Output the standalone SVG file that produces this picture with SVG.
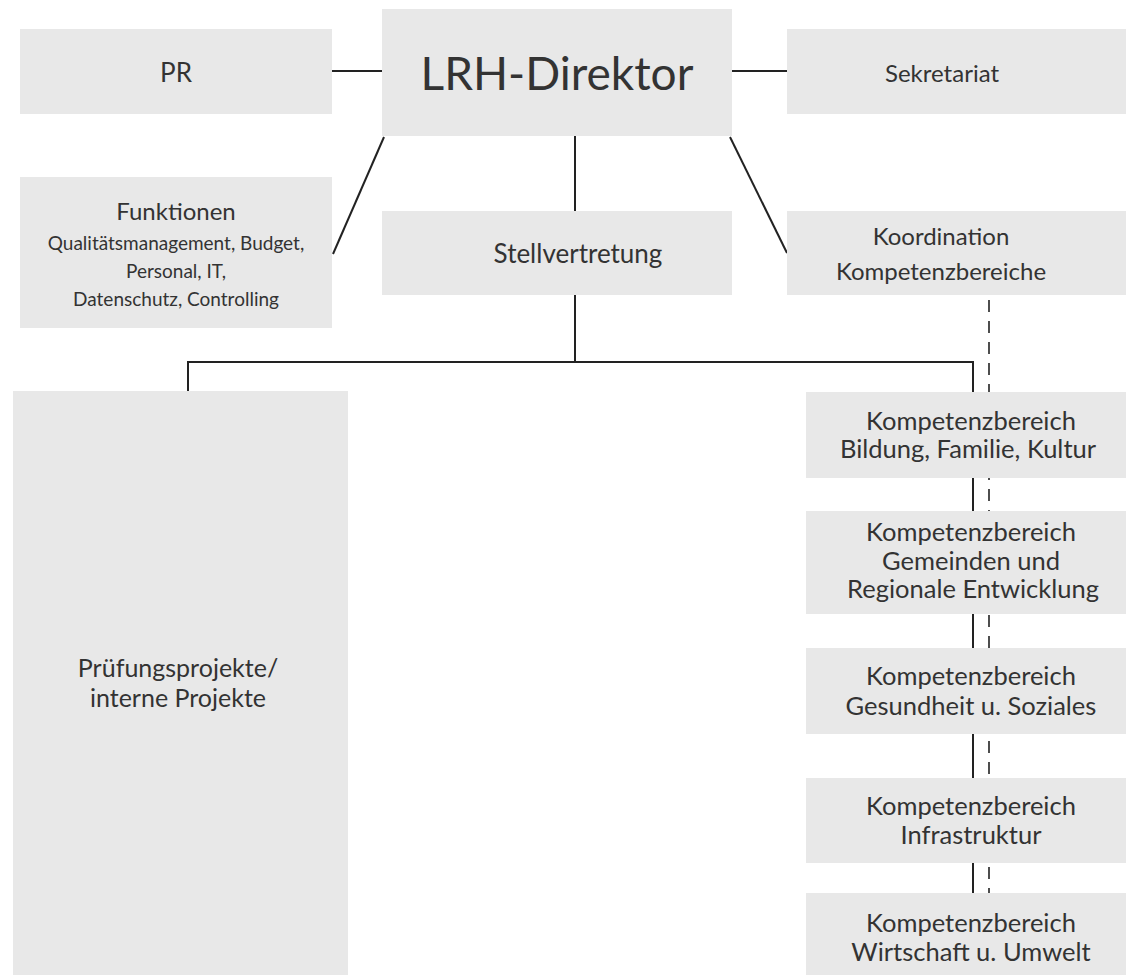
<svg xmlns="http://www.w3.org/2000/svg" width="1126" height="975" viewBox="0 0 1126 975">
<style>
.box{fill:#e8e8e8}
text{font-family:Lato,"Open Sans","Liberation Sans",sans-serif;fill:#333;text-anchor:middle}
.kb{font-size:25.5px}
.ln{stroke:#222;stroke-width:2;fill:none}
.dash{stroke:#222;stroke-width:1.6;fill:none;stroke-dasharray:12 9}
</style>
<rect width="1126" height="975" fill="#fff"/>
<g id="connectors">
<line class="ln" x1="332" y1="71" x2="382" y2="71"/>
<line class="ln" x1="732" y1="71" x2="787" y2="71"/>
<line class="ln" x1="384" y1="137" x2="333" y2="254"/>
<line class="ln" x1="730" y1="137" x2="787" y2="253"/>
<line class="ln" x1="575" y1="136" x2="575" y2="211"/>
<line class="ln" x1="575" y1="295" x2="575" y2="362"/>
<polyline class="ln" points="188,391 188,362 973,362 973,392"/>
<line class="ln" x1="973" y1="478" x2="973" y2="511"/>
<line class="ln" x1="973" y1="614" x2="973" y2="648"/>
<line class="ln" x1="973" y1="734" x2="973" y2="778"/>
<line class="ln" x1="973" y1="863" x2="973" y2="893"/>
<line class="dash" x1="989" y1="300" x2="989" y2="975"/>
</g>
<g id="n-pr"><rect class="box" x="20" y="29" width="312" height="85"/><text x="176" y="82" font-size="26">PR</text></g>
<g id="n-direktor"><rect class="box" x="382" y="9" width="350" height="127"/><text x="557" y="90" font-size="46">LRH-Direktor</text></g>
<g id="n-sekretariat"><rect class="box" x="787" y="29" width="339" height="85"/><text x="942" y="82" font-size="24">Sekretariat</text></g>
<g id="n-funktionen"><rect class="box" x="20" y="177" width="312" height="151"/>
<text x="176" y="220" font-size="24">Funktionen</text>
<text x="176" y="250" font-size="19">Qualitätsmanagement, Budget,</text>
<text x="176" y="278" font-size="19">Personal, IT,</text>
<text x="176" y="306" font-size="19">Datenschutz, Controlling</text></g>
<g id="n-stellvertretung"><rect class="box" x="382" y="211" width="350" height="84"/><text x="578" y="263" font-size="26">Stellvertretung</text></g>
<g id="n-koordination"><rect class="box" x="787" y="211" width="339" height="84"/>
<text x="941" y="245" font-size="24">Koordination</text>
<text x="941" y="280" font-size="24">Kompetenzbereiche</text></g>
<g id="n-pruefung"><rect class="box" x="13" y="391" width="335" height="584"/>
<text x="178" y="677" font-size="25">Prüfungsprojekte/</text>
<text x="178" y="707" font-size="25">interne Projekte</text></g>
<g id="n-kb1"><rect class="box" x="806" y="392" width="320" height="86"/>
<text class="kb" x="971" y="430">Kompetenzbereich</text>
<text class="kb" x="968" y="458">Bildung, Familie, Kultur</text></g>
<g id="n-kb2"><rect class="box" x="806" y="511" width="320" height="103"/>
<text class="kb" x="971" y="541">Kompetenzbereich</text>
<text class="kb" x="971" y="570">Gemeinden und</text>
<text class="kb" x="973" y="598">Regionale Entwicklung</text></g>
<g id="n-kb3"><rect class="box" x="806" y="648" width="320" height="86"/>
<text class="kb" x="971" y="685">Kompetenzbereich</text>
<text class="kb" x="971" y="715">Gesundheit u. Soziales</text></g>
<g id="n-kb4"><rect class="box" x="806" y="778" width="320" height="85"/>
<text class="kb" x="971" y="815">Kompetenzbereich</text>
<text class="kb" x="971" y="844">Infrastruktur</text></g>
<g id="n-kb5"><rect class="box" x="806" y="893" width="320" height="82"/>
<text class="kb" x="971" y="932">Kompetenzbereich</text>
<text class="kb" x="971" y="961">Wirtschaft u. Umwelt</text></g>
</svg>
